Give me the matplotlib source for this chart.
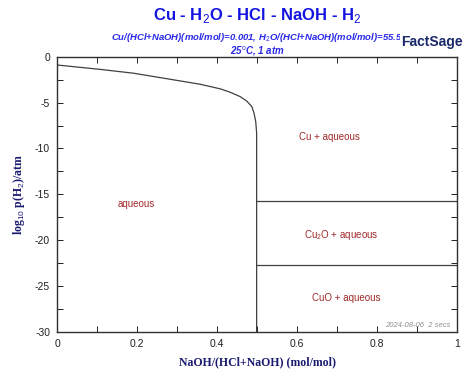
import matplotlib
matplotlib.use('Agg')
import matplotlib.pyplot as plt
from matplotlib.ticker import MultipleLocator

# aqueous / Cu boundary
curve_x = [0.0, 0.108, 0.192, 0.275, 0.358, 0.408, 0.433, 0.458, 0.474, 0.487, 0.4925, 0.4967, 0.499, 0.499]
curve_y = [-0.9, -1.38, -1.8, -2.4, -3.0, -3.5, -3.87, -4.35, -4.82, -5.43, -6.15, -7.06, -8.3, -30.0]

# horizontal phase boundaries on the right side
cu_cu2o_y = -15.7
cu2o_cuo_y = -22.75
split_x = 0.499

region_labels = ['Cu + aqueous', 'aqueous', 'Cu$_2$O + aqueous', 'CuO + aqueous']
region_x = [0.68, 0.198, 0.711, 0.724]
region_y = [-8.7, -16.0, -19.4, -26.3]

plt.rcParams['font.family'] = ['Liberation Sans', 'DejaVu Sans']
plt.rcParams['mathtext.fontset'] = 'custom'
plt.rcParams['mathtext.rm'] = 'Liberation Sans'
plt.rcParams['axes.unicode_minus'] = False

fig = plt.figure(figsize=(4.72, 3.72), dpi=100)
ax = fig.add_axes([0.1208, 0.1075, 0.8475, 0.74])

line_col = '#404040'
ax.plot(curve_x, curve_y, color=line_col, lw=0.9)
ax.plot([split_x, 1.0], [cu_cu2o_y, cu_cu2o_y], color=line_col, lw=0.9)
ax.plot([split_x, 1.0], [cu2o_cuo_y, cu2o_cuo_y], color=line_col, lw=0.9)

for lab, lx, ly in zip(region_labels, region_x, region_y):
    ax.text(lx, ly, lab, color='#a02828', fontsize=7, ha='center', va='center')

ax.set_xlim(0, 1)
ax.set_ylim(-30, 0)
ax.xaxis.set_major_locator(MultipleLocator(0.2))
ax.xaxis.set_minor_locator(MultipleLocator(0.1))
ax.yaxis.set_major_locator(MultipleLocator(5))
ax.yaxis.set_minor_locator(MultipleLocator(2.5))
ax.xaxis.set_major_formatter(plt.FuncFormatter(lambda v, p: '0' if abs(v) < 1e-9 else ('1' if abs(v - 1) < 1e-9 else '%.1f' % v)))
ax.yaxis.set_major_formatter(plt.FuncFormatter(lambda v, p: '%d' % round(v)))
ax.tick_params(which='both', direction='in', top=True, right=True, labelsize=7.5, colors='#202020', pad=5)
ax.tick_params(which='major', length=4, width=0.7)
ax.tick_params(which='minor', length=4, width=0.7)
for s in ax.spines.values():
    s.set_color('#303030')
    s.set_linewidth(1.0)

ax.set_xlabel('NaOH/(HCl+NaOH) (mol/mol)', family='Liberation Serif', fontweight='bold',
              fontsize=8.5, color='#1a1a70', labelpad=5)
ax.set_ylabel(r'log$_{10}$ p(H$_2$)/atm', family='Liberation Serif', fontweight='bold',
              fontsize=8.5, color='#1a1a70', labelpad=6)

ax.text(0.985, 0.012, '2024-08-06  2 secs', transform=ax.transAxes, fontsize=5.5,
        color='#909090', style='italic', ha='right', va='bottom')

fig.text(0.545, 0.958, r'Cu - H$_2$O - HCl - NaOH - H$_2$', fontsize=12, fontweight='bold',
         color='#1414e0', ha='center', va='center')
fig.text(0.545, 0.9, 'Cu/(HCl+NaOH)(mol/mol)=0.001, H$_2$O/(HCl+NaOH)(mol/mol)=55.5',
         fontsize=6.8, fontweight='bold', style='italic', color='#2828e8', ha='center', va='center')
fig.text(0.545, 0.862, r'25$^{\rm o}$C, 1 atm', fontsize=7, fontweight='bold', style='italic',
         color='#2828e8', ha='center', va='center')
fig.text(0.915, 0.888, 'FactSage', fontsize=10, fontweight='bold', color='#1a2a6a',
         ha='center', va='center', bbox=dict(facecolor='white', edgecolor='none', pad=1))

fig.savefig('out.png', dpi=100)
